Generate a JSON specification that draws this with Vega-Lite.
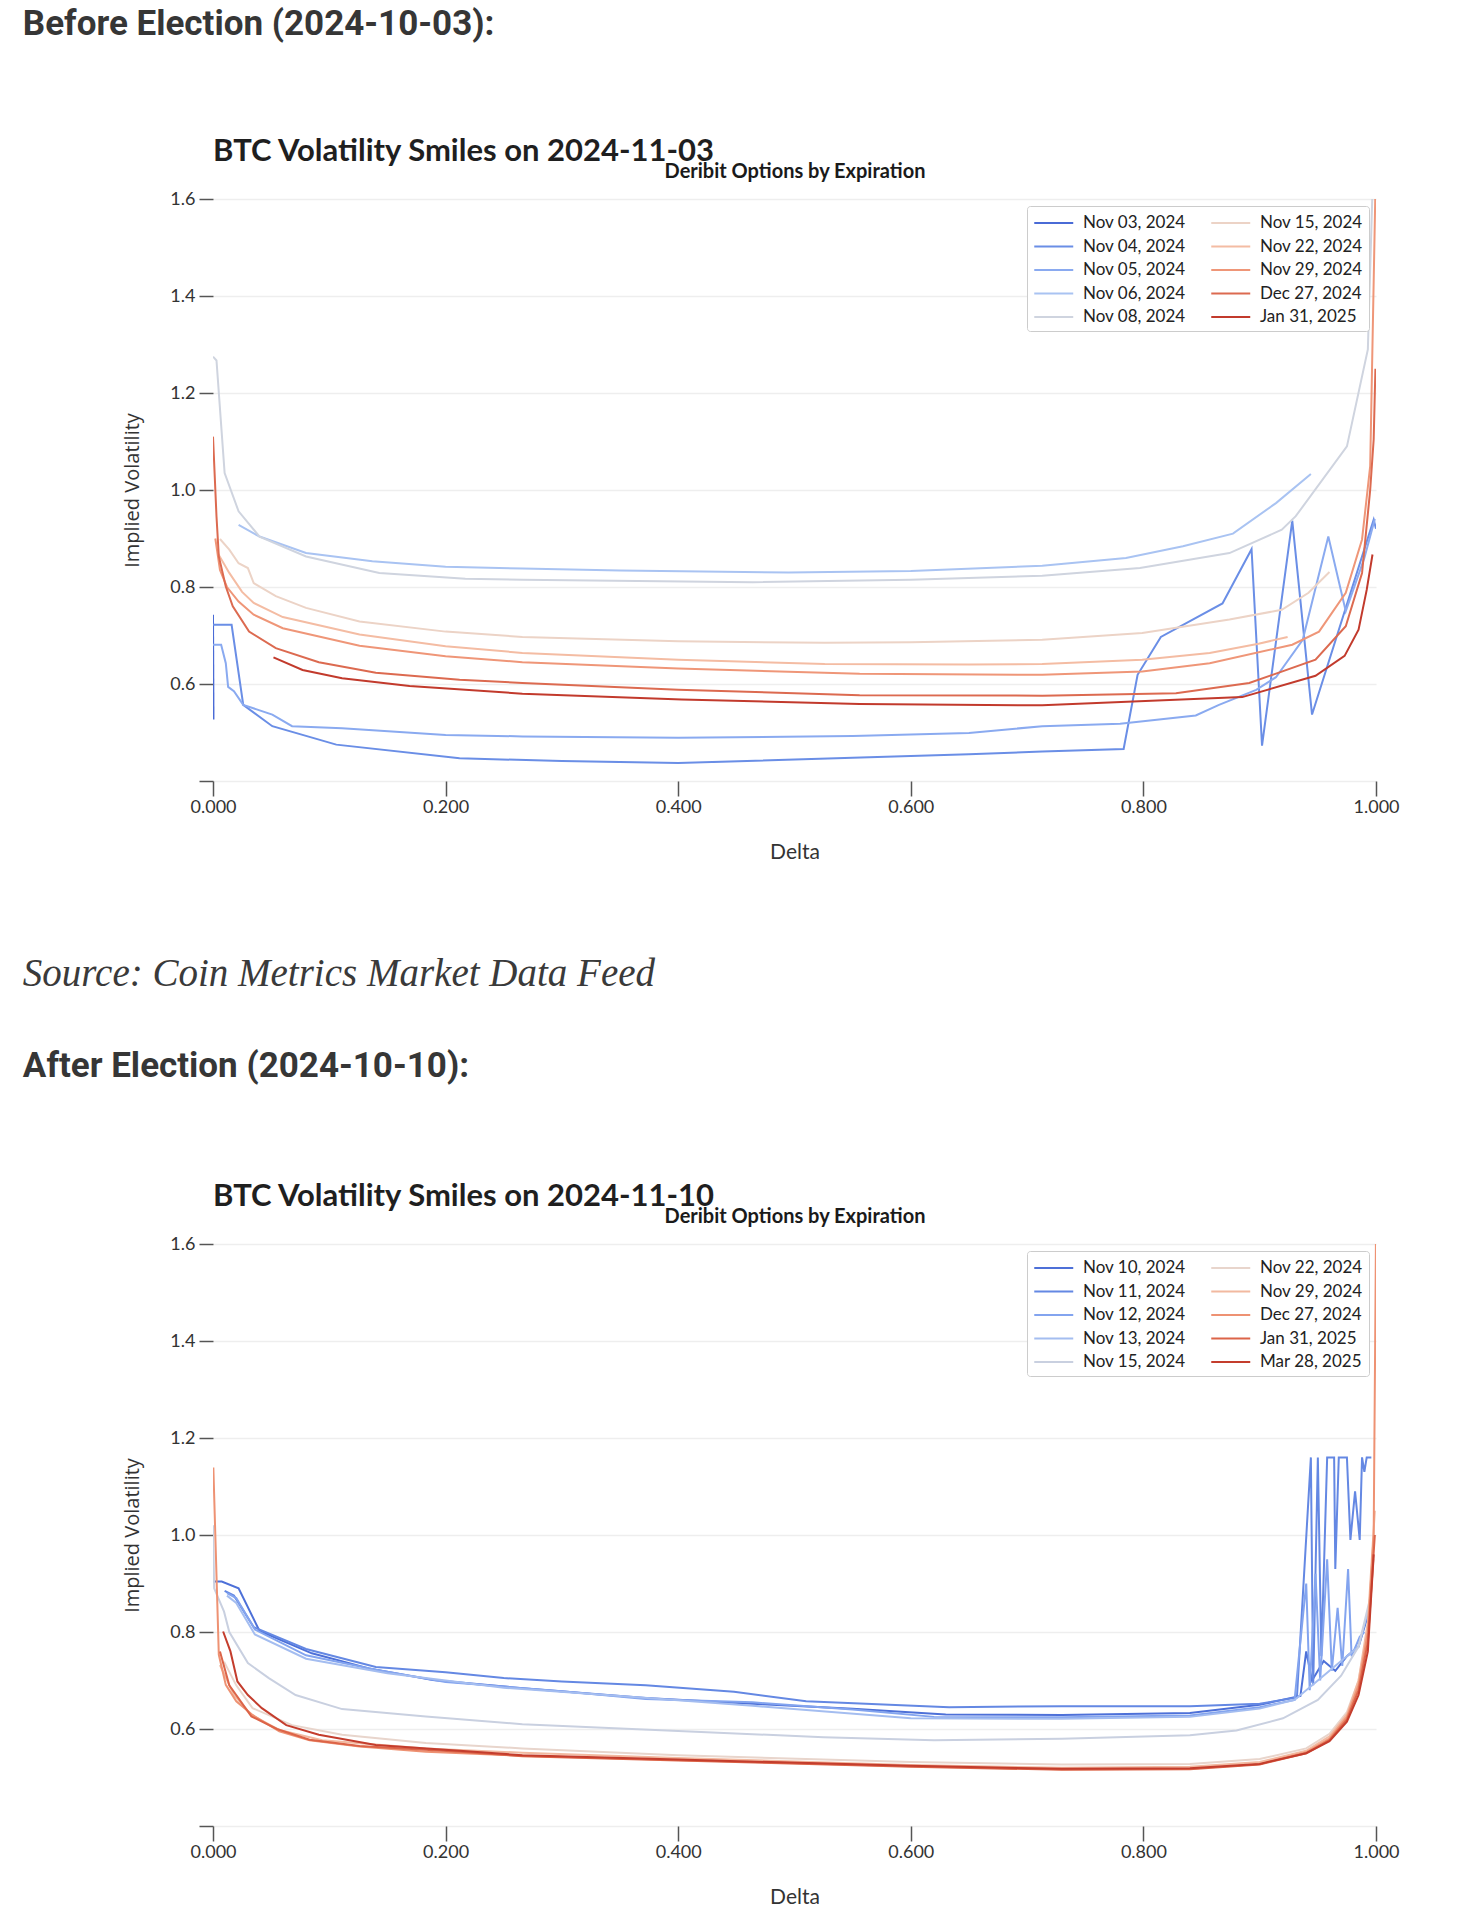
{
"$schema": "https://vega.github.io/schema/vega-lite/v6.json",
"background": "white",
"padding": {"left": 22, "top": 7, "right": 20, "bottom": 5},
"config": {
  "view": {"stroke": null},
  "axis": {"labelFont": "Lato", "labelFontSize": 18, "labelColor": "#333333", "tickColor": "#555555", "tickWidth": 1.5, "domain": false, "titleColor": "#333333", "titleFontWeight": "normal"},
  "legend": {"title": null, "orient": "top-right", "columns": 2, "symbolType": "M-1,0L3,0", "symbolSize": 380, "symbolStrokeWidth": 2, "labelFont": "Lato", "labelFontSize": 17, "labelColor": "#222222", "labelOffset": 28, "labelLimit": 300, "strokeColor": "#cccccc", "fillColor": "#ffffff", "cornerRadius": 3, "padding": 6, "offset": 7, "rowPadding": 4.5, "columnPadding": 21}
},
"resolve": {"scale": {"color": "independent"}, "legend": {"color": "independent"}},
"spacing": 93,
"vconcat": [
 {
  "title": {"text": "Before Election (2024-10-03):", "anchor": "start", "frame": "bounds", "dx": -100, "font": "Roboto", "fontSize": 35, "fontWeight": "bold", "color": "#363636", "offset": 94},
  "resolve": {"scale": {"color": "independent"}, "legend": {"color": "independent"}},
  "vconcat": [
   {
    "title": {"text": "BTC Volatility Smiles on 2024-11-03", "anchor": "start", "frame": "group", "font": "Lato", "fontSize": 31, "fontWeight": "bold", "color": "#1f1f1f", "offset": -7},
    "width": 1163, "height": 582,
    "data": {"name": "before"},
    "layer": [
     {"mark": {"type": "line", "strokeWidth": 2, "clip": true},
      "encoding": {
       "x": {"field": "d", "type": "quantitative", "scale": {"domain": [0, 1], "nice": false},
             "axis": {"title": "Delta", "titleFont": "Lato", "titleFontSize": 21, "values": [0, 0.2, 0.4, 0.6, 0.8, 1], "format": ".3f", "tickSize": 15, "grid": false, "labelPadding": 2, "titlePadding": 25, "labelFlush": false}},
       "y": {"field": "v", "type": "quantitative", "scale": {"domain": [0.4, 1.6], "nice": false, "zero": false},
             "axis": {"title": "Implied Volatility", "titleFont": "Open Sans", "titleFontSize": 20, "values": [0.4, 0.6, 0.8, 1.0, 1.2, 1.4, 1.6], "labelExpr": "datum.value < 0.5 ? '' : format(datum.value, '.1f')", "tickSize": 14, "labelPadding": 4, "titlePadding": 27, "grid": true, "gridColor": "#eeeeee", "gridWidth": 1.5}},
       "color": {"field": "e", "type": "nominal",
                 "scale": {"domain": ["Nov 03, 2024","Nov 04, 2024","Nov 05, 2024","Nov 06, 2024","Nov 08, 2024","Nov 15, 2024","Nov 22, 2024","Nov 29, 2024","Dec 27, 2024","Jan 31, 2025"],
                           "range": ["#4a6bd6","#6a8ee6","#8aaaf0","#a9c3f2","#cfd4df","#ecd3c6","#f4bca3","#ef9678","#dc6a50","#c23a2c"]}}
      }},
     {"mark": {"type": "rule", "opacity": 0},
      "encoding": {"x": {"field": "d", "type": "quantitative",
             "axis": {"orient": "top", "title": "Deribit Options by Expiration", "titleFont": "Lato", "titleFontSize": 20, "titleFontWeight": "bold", "titleColor": "#1a1a1a", "labels": false, "ticks": false, "domain": false, "grid": false, "titlePadding": 18}}}}
    ],
    "resolve": {"axis": {"x": "independent"}}
   }
  ]
 },
 {
  "title": {"text": "Source: Coin Metrics Market Data Feed", "subtitle": "After Election (2024-10-10):", "anchor": "start", "frame": "bounds", "dx": -100, "font": "Liberation Serif", "fontStyle": "italic", "fontWeight": "normal", "fontSize": 39, "color": "#3a3a3a", "subtitleFont": "Roboto", "subtitleFontSize": 35, "subtitleFontWeight": "bold", "subtitleColor": "#363636", "subtitlePadding": 55, "offset": 97},
  "resolve": {"scale": {"color": "independent"}, "legend": {"color": "independent"}},
  "vconcat": [
   {
    "title": {"text": "BTC Volatility Smiles on 2024-11-10", "anchor": "start", "frame": "group", "font": "Lato", "fontSize": 31, "fontWeight": "bold", "color": "#1f1f1f", "offset": -7},
    "width": 1163, "height": 582,
    "data": {"name": "after"},
    "layer": [
     {"mark": {"type": "line", "strokeWidth": 2, "clip": true},
      "encoding": {
       "x": {"field": "d", "type": "quantitative", "scale": {"domain": [0, 1], "nice": false},
             "axis": {"title": "Delta", "titleFont": "Lato", "titleFontSize": 21, "values": [0, 0.2, 0.4, 0.6, 0.8, 1], "format": ".3f", "tickSize": 15, "grid": false, "labelPadding": 2, "titlePadding": 25, "labelFlush": false}},
       "y": {"field": "v", "type": "quantitative", "scale": {"domain": [0.4, 1.6], "nice": false, "zero": false},
             "axis": {"title": "Implied Volatility", "titleFont": "Open Sans", "titleFontSize": 20, "values": [0.4, 0.6, 0.8, 1.0, 1.2, 1.4, 1.6], "labelExpr": "datum.value < 0.5 ? '' : format(datum.value, '.1f')", "tickSize": 14, "labelPadding": 4, "titlePadding": 27, "grid": true, "gridColor": "#eeeeee", "gridWidth": 1.5}},
       "color": {"field": "e", "type": "nominal",
                 "scale": {"domain": ["Nov 10, 2024","Nov 11, 2024","Nov 12, 2024","Nov 13, 2024","Nov 15, 2024","Nov 22, 2024","Nov 29, 2024","Dec 27, 2024","Jan 31, 2025","Mar 28, 2025"],
                           "range": ["#4d70d8","#6488e3","#83a4ef","#a4bdf0","#c9d0e0","#e8d5cc","#f2b9a0","#ee9273","#dc6448","#c43d2d"]}}
      }},
     {"mark": {"type": "rule", "opacity": 0},
      "encoding": {"x": {"field": "d", "type": "quantitative",
             "axis": {"orient": "top", "title": "Deribit Options by Expiration", "titleFont": "Lato", "titleFontSize": 20, "titleFontWeight": "bold", "titleColor": "#1a1a1a", "labels": false, "ticks": false, "domain": false, "grid": false, "titlePadding": 18}}}}
    ],
    "resolve": {"axis": {"x": "independent"}}
   }
  ]
 }
],
"datasets": {
 "before": [
  {"e":"Nov 03, 2024","d":0,"v":0.743},{"e":"Nov 03, 2024","d":0.0004,"v":0.527},
  {"e":"Nov 04, 2024","d":0,"v":0.722},{"e":"Nov 04, 2024","d":0.016,"v":0.722},{"e":"Nov 04, 2024","d":0.026,"v":0.557},{"e":"Nov 04, 2024","d":0.051,"v":0.513},{"e":"Nov 04, 2024","d":0.106,"v":0.475},{"e":"Nov 04, 2024","d":0.212,"v":0.447},{"e":"Nov 04, 2024","d":0.3,"v":0.441},{"e":"Nov 04, 2024","d":0.4,"v":0.437},{"e":"Nov 04, 2024","d":0.55,"v":0.448},{"e":"Nov 04, 2024","d":0.65,"v":0.455},{"e":"Nov 04, 2024","d":0.713,"v":0.461},{"e":"Nov 04, 2024","d":0.783,"v":0.466},{"e":"Nov 04, 2024","d":0.795,"v":0.619},{"e":"Nov 04, 2024","d":0.815,"v":0.697},{"e":"Nov 04, 2024","d":0.868,"v":0.766},{"e":"Nov 04, 2024","d":0.893,"v":0.878},{"e":"Nov 04, 2024","d":0.902,"v":0.473},{"e":"Nov 04, 2024","d":0.928,"v":0.937},{"e":"Nov 04, 2024","d":0.945,"v":0.537},{"e":"Nov 04, 2024","d":0.998,"v":0.939},{"e":"Nov 04, 2024","d":1.0,"v":0.92},
  {"e":"Nov 05, 2024","d":0,"v":0.681},{"e":"Nov 05, 2024","d":0.007,"v":0.681},{"e":"Nov 05, 2024","d":0.011,"v":0.643},{"e":"Nov 05, 2024","d":0.013,"v":0.594},{"e":"Nov 05, 2024","d":0.018,"v":0.585},{"e":"Nov 05, 2024","d":0.026,"v":0.557},{"e":"Nov 05, 2024","d":0.051,"v":0.537},{"e":"Nov 05, 2024","d":0.068,"v":0.513},{"e":"Nov 05, 2024","d":0.111,"v":0.509},{"e":"Nov 05, 2024","d":0.2,"v":0.495},{"e":"Nov 05, 2024","d":0.266,"v":0.492},{"e":"Nov 05, 2024","d":0.4,"v":0.489},{"e":"Nov 05, 2024","d":0.55,"v":0.493},{"e":"Nov 05, 2024","d":0.65,"v":0.499},{"e":"Nov 05, 2024","d":0.713,"v":0.513},{"e":"Nov 05, 2024","d":0.78,"v":0.518},{"e":"Nov 05, 2024","d":0.845,"v":0.535},{"e":"Nov 05, 2024","d":0.865,"v":0.557},{"e":"Nov 05, 2024","d":0.897,"v":0.588},{"e":"Nov 05, 2024","d":0.914,"v":0.614},{"e":"Nov 05, 2024","d":0.937,"v":0.691},{"e":"Nov 05, 2024","d":0.959,"v":0.904},{"e":"Nov 05, 2024","d":0.974,"v":0.75},{"e":"Nov 05, 2024","d":0.99,"v":0.86},{"e":"Nov 05, 2024","d":0.999,"v":0.94},
  {"e":"Nov 06, 2024","d":0.022,"v":0.928},{"e":"Nov 06, 2024","d":0.04,"v":0.904},{"e":"Nov 06, 2024","d":0.08,"v":0.87},{"e":"Nov 06, 2024","d":0.137,"v":0.853},{"e":"Nov 06, 2024","d":0.2,"v":0.842},{"e":"Nov 06, 2024","d":0.266,"v":0.838},{"e":"Nov 06, 2024","d":0.35,"v":0.834},{"e":"Nov 06, 2024","d":0.495,"v":0.83},{"e":"Nov 06, 2024","d":0.6,"v":0.833},{"e":"Nov 06, 2024","d":0.713,"v":0.844},{"e":"Nov 06, 2024","d":0.785,"v":0.86},{"e":"Nov 06, 2024","d":0.834,"v":0.884},{"e":"Nov 06, 2024","d":0.877,"v":0.91},{"e":"Nov 06, 2024","d":0.914,"v":0.973},{"e":"Nov 06, 2024","d":0.944,"v":1.033},
  {"e":"Nov 08, 2024","d":0,"v":1.275},{"e":"Nov 08, 2024","d":0.003,"v":1.267},{"e":"Nov 08, 2024","d":0.01,"v":1.035},{"e":"Nov 08, 2024","d":0.022,"v":0.956},{"e":"Nov 08, 2024","d":0.04,"v":0.904},{"e":"Nov 08, 2024","d":0.08,"v":0.863},{"e":"Nov 08, 2024","d":0.143,"v":0.829},{"e":"Nov 08, 2024","d":0.217,"v":0.817},{"e":"Nov 08, 2024","d":0.266,"v":0.815},{"e":"Nov 08, 2024","d":0.464,"v":0.81},{"e":"Nov 08, 2024","d":0.6,"v":0.815},{"e":"Nov 08, 2024","d":0.713,"v":0.823},{"e":"Nov 08, 2024","d":0.797,"v":0.839},{"e":"Nov 08, 2024","d":0.874,"v":0.87},{"e":"Nov 08, 2024","d":0.919,"v":0.918},{"e":"Nov 08, 2024","d":0.931,"v":0.946},{"e":"Nov 08, 2024","d":0.975,"v":1.09},{"e":"Nov 08, 2024","d":0.993,"v":1.29},{"e":"Nov 08, 2024","d":0.997,"v":1.62},
  {"e":"Nov 15, 2024","d":0.006,"v":0.899},{"e":"Nov 15, 2024","d":0.014,"v":0.877},{"e":"Nov 15, 2024","d":0.022,"v":0.849},{"e":"Nov 15, 2024","d":0.03,"v":0.839},{"e":"Nov 15, 2024","d":0.035,"v":0.808},{"e":"Nov 15, 2024","d":0.054,"v":0.781},{"e":"Nov 15, 2024","d":0.08,"v":0.757},{"e":"Nov 15, 2024","d":0.126,"v":0.729},{"e":"Nov 15, 2024","d":0.2,"v":0.708},{"e":"Nov 15, 2024","d":0.266,"v":0.697},{"e":"Nov 15, 2024","d":0.4,"v":0.688},{"e":"Nov 15, 2024","d":0.526,"v":0.685},{"e":"Nov 15, 2024","d":0.6,"v":0.686},{"e":"Nov 15, 2024","d":0.713,"v":0.691},{"e":"Nov 15, 2024","d":0.799,"v":0.705},{"e":"Nov 15, 2024","d":0.874,"v":0.733},{"e":"Nov 15, 2024","d":0.919,"v":0.753},{"e":"Nov 15, 2024","d":0.942,"v":0.788},{"e":"Nov 15, 2024","d":0.96,"v":0.831},
  {"e":"Nov 22, 2024","d":0.004,"v":0.87},{"e":"Nov 22, 2024","d":0.014,"v":0.829},{"e":"Nov 22, 2024","d":0.025,"v":0.79},{"e":"Nov 22, 2024","d":0.035,"v":0.767},{"e":"Nov 22, 2024","d":0.06,"v":0.738},{"e":"Nov 22, 2024","d":0.126,"v":0.702},{"e":"Nov 22, 2024","d":0.2,"v":0.678},{"e":"Nov 22, 2024","d":0.266,"v":0.664},{"e":"Nov 22, 2024","d":0.4,"v":0.65},{"e":"Nov 22, 2024","d":0.526,"v":0.641},{"e":"Nov 22, 2024","d":0.65,"v":0.64},{"e":"Nov 22, 2024","d":0.713,"v":0.641},{"e":"Nov 22, 2024","d":0.799,"v":0.65},{"e":"Nov 22, 2024","d":0.857,"v":0.664},{"e":"Nov 22, 2024","d":0.899,"v":0.683},{"e":"Nov 22, 2024","d":0.924,"v":0.697},
  {"e":"Nov 29, 2024","d":0.002,"v":0.9},{"e":"Nov 29, 2024","d":0.006,"v":0.835},{"e":"Nov 29, 2024","d":0.012,"v":0.8},{"e":"Nov 29, 2024","d":0.022,"v":0.77},{"e":"Nov 29, 2024","d":0.035,"v":0.743},{"e":"Nov 29, 2024","d":0.06,"v":0.715},{"e":"Nov 29, 2024","d":0.126,"v":0.679},{"e":"Nov 29, 2024","d":0.2,"v":0.657},{"e":"Nov 29, 2024","d":0.266,"v":0.645},{"e":"Nov 29, 2024","d":0.4,"v":0.632},{"e":"Nov 29, 2024","d":0.556,"v":0.621},{"e":"Nov 29, 2024","d":0.713,"v":0.619},{"e":"Nov 29, 2024","d":0.799,"v":0.626},{"e":"Nov 29, 2024","d":0.857,"v":0.643},{"e":"Nov 29, 2024","d":0.928,"v":0.681},{"e":"Nov 29, 2024","d":0.951,"v":0.708},{"e":"Nov 29, 2024","d":0.974,"v":0.788},{"e":"Nov 29, 2024","d":0.988,"v":0.898},{"e":"Nov 29, 2024","d":0.995,"v":1.049},{"e":"Nov 29, 2024","d":0.9995,"v":1.62},
  {"e":"Dec 27, 2024","d":0,"v":1.11},{"e":"Dec 27, 2024","d":0.003,"v":0.946},{"e":"Dec 27, 2024","d":0.005,"v":0.863},{"e":"Dec 27, 2024","d":0.011,"v":0.801},{"e":"Dec 27, 2024","d":0.017,"v":0.76},{"e":"Dec 27, 2024","d":0.031,"v":0.708},{"e":"Dec 27, 2024","d":0.054,"v":0.674},{"e":"Dec 27, 2024","d":0.091,"v":0.645},{"e":"Dec 27, 2024","d":0.14,"v":0.623},{"e":"Dec 27, 2024","d":0.212,"v":0.609},{"e":"Dec 27, 2024","d":0.266,"v":0.602},{"e":"Dec 27, 2024","d":0.4,"v":0.588},{"e":"Dec 27, 2024","d":0.556,"v":0.577},{"e":"Dec 27, 2024","d":0.713,"v":0.576},{"e":"Dec 27, 2024","d":0.828,"v":0.581},{"e":"Dec 27, 2024","d":0.891,"v":0.602},{"e":"Dec 27, 2024","d":0.948,"v":0.65},{"e":"Dec 27, 2024","d":0.974,"v":0.719},{"e":"Dec 27, 2024","d":0.988,"v":0.829},{"e":"Dec 27, 2024","d":0.995,"v":1.0},{"e":"Dec 27, 2024","d":0.998,"v":1.104},{"e":"Dec 27, 2024","d":0.9995,"v":1.25},
  {"e":"Jan 31, 2025","d":0.052,"v":0.655},{"e":"Jan 31, 2025","d":0.077,"v":0.629},{"e":"Jan 31, 2025","d":0.111,"v":0.612},{"e":"Jan 31, 2025","d":0.169,"v":0.596},{"e":"Jan 31, 2025","d":0.266,"v":0.58},{"e":"Jan 31, 2025","d":0.403,"v":0.568},{"e":"Jan 31, 2025","d":0.556,"v":0.559},{"e":"Jan 31, 2025","d":0.713,"v":0.556},{"e":"Jan 31, 2025","d":0.885,"v":0.573},{"e":"Jan 31, 2025","d":0.948,"v":0.617},{"e":"Jan 31, 2025","d":0.973,"v":0.658},{"e":"Jan 31, 2025","d":0.985,"v":0.712},{"e":"Jan 31, 2025","d":0.992,"v":0.794},{"e":"Jan 31, 2025","d":0.997,"v":0.867}
 ],
 "after": [
  {"e":"Nov 10, 2024","d":0,"v":0.904},{"e":"Nov 10, 2024","d":0.0075,"v":0.904},{"e":"Nov 10, 2024","d":0.022,"v":0.89},{"e":"Nov 10, 2024","d":0.04,"v":0.802},{"e":"Nov 10, 2024","d":0.085,"v":0.756},{"e":"Nov 10, 2024","d":0.134,"v":0.725},{"e":"Nov 10, 2024","d":0.189,"v":0.701},{"e":"Nov 10, 2024","d":0.266,"v":0.684},{"e":"Nov 10, 2024","d":0.372,"v":0.664},{"e":"Nov 10, 2024","d":0.464,"v":0.652},{"e":"Nov 10, 2024","d":0.55,"v":0.642},{"e":"Nov 10, 2024","d":0.63,"v":0.63},{"e":"Nov 10, 2024","d":0.73,"v":0.629},{"e":"Nov 10, 2024","d":0.84,"v":0.633},{"e":"Nov 10, 2024","d":0.9,"v":0.65},{"e":"Nov 10, 2024","d":0.935,"v":0.668},{"e":"Nov 10, 2024","d":0.94,"v":0.76},{"e":"Nov 10, 2024","d":0.945,"v":0.7},{"e":"Nov 10, 2024","d":0.955,"v":0.74},{"e":"Nov 10, 2024","d":0.965,"v":0.72},{"e":"Nov 10, 2024","d":0.975,"v":0.75},{"e":"Nov 10, 2024","d":0.985,"v":0.77},{"e":"Nov 10, 2024","d":0.995,"v":0.85},
  {"e":"Nov 11, 2024","d":0.01,"v":0.885},{"e":"Nov 11, 2024","d":0.018,"v":0.875},{"e":"Nov 11, 2024","d":0.035,"v":0.81},{"e":"Nov 11, 2024","d":0.08,"v":0.765},{"e":"Nov 11, 2024","d":0.14,"v":0.728},{"e":"Nov 11, 2024","d":0.2,"v":0.717},{"e":"Nov 11, 2024","d":0.25,"v":0.705},{"e":"Nov 11, 2024","d":0.3,"v":0.698},{"e":"Nov 11, 2024","d":0.372,"v":0.69},{"e":"Nov 11, 2024","d":0.448,"v":0.677},{"e":"Nov 11, 2024","d":0.51,"v":0.657},{"e":"Nov 11, 2024","d":0.633,"v":0.645},{"e":"Nov 11, 2024","d":0.73,"v":0.647},{"e":"Nov 11, 2024","d":0.84,"v":0.647},{"e":"Nov 11, 2024","d":0.9,"v":0.652},{"e":"Nov 11, 2024","d":0.932,"v":0.665},{"e":"Nov 11, 2024","d":0.944,"v":1.16},{"e":"Nov 11, 2024","d":0.946,"v":0.69},{"e":"Nov 11, 2024","d":0.95,"v":1.16},{"e":"Nov 11, 2024","d":0.953,"v":0.75},{"e":"Nov 11, 2024","d":0.958,"v":1.16},{"e":"Nov 11, 2024","d":0.964,"v":1.16},{"e":"Nov 11, 2024","d":0.965,"v":0.93},{"e":"Nov 11, 2024","d":0.968,"v":1.16},{"e":"Nov 11, 2024","d":0.975,"v":1.16},{"e":"Nov 11, 2024","d":0.978,"v":0.99},{"e":"Nov 11, 2024","d":0.982,"v":1.09},{"e":"Nov 11, 2024","d":0.986,"v":0.99},{"e":"Nov 11, 2024","d":0.988,"v":1.16},{"e":"Nov 11, 2024","d":0.99,"v":1.13},{"e":"Nov 11, 2024","d":0.992,"v":1.16},{"e":"Nov 11, 2024","d":0.996,"v":1.16},
  {"e":"Nov 12, 2024","d":0.012,"v":0.88},{"e":"Nov 12, 2024","d":0.02,"v":0.87},{"e":"Nov 12, 2024","d":0.036,"v":0.805},{"e":"Nov 12, 2024","d":0.08,"v":0.752},{"e":"Nov 12, 2024","d":0.14,"v":0.722},{"e":"Nov 12, 2024","d":0.2,"v":0.697},{"e":"Nov 12, 2024","d":0.3,"v":0.678},{"e":"Nov 12, 2024","d":0.372,"v":0.662},{"e":"Nov 12, 2024","d":0.464,"v":0.655},{"e":"Nov 12, 2024","d":0.55,"v":0.64},{"e":"Nov 12, 2024","d":0.62,"v":0.625},{"e":"Nov 12, 2024","d":0.73,"v":0.624},{"e":"Nov 12, 2024","d":0.84,"v":0.628},{"e":"Nov 12, 2024","d":0.9,"v":0.645},{"e":"Nov 12, 2024","d":0.93,"v":0.66},{"e":"Nov 12, 2024","d":0.94,"v":0.9},{"e":"Nov 12, 2024","d":0.943,"v":0.68},{"e":"Nov 12, 2024","d":0.948,"v":0.92},{"e":"Nov 12, 2024","d":0.952,"v":0.7},{"e":"Nov 12, 2024","d":0.958,"v":0.95},{"e":"Nov 12, 2024","d":0.962,"v":0.72},{"e":"Nov 12, 2024","d":0.967,"v":0.85},{"e":"Nov 12, 2024","d":0.971,"v":0.73},{"e":"Nov 12, 2024","d":0.976,"v":0.93},{"e":"Nov 12, 2024","d":0.979,"v":0.75},{"e":"Nov 12, 2024","d":0.986,"v":0.79},{"e":"Nov 12, 2024","d":0.99,"v":0.8},
  {"e":"Nov 13, 2024","d":0.012,"v":0.875},{"e":"Nov 13, 2024","d":0.02,"v":0.86},{"e":"Nov 13, 2024","d":0.036,"v":0.795},{"e":"Nov 13, 2024","d":0.08,"v":0.745},{"e":"Nov 13, 2024","d":0.15,"v":0.715},{"e":"Nov 13, 2024","d":0.25,"v":0.685},{"e":"Nov 13, 2024","d":0.35,"v":0.668},{"e":"Nov 13, 2024","d":0.464,"v":0.648},{"e":"Nov 13, 2024","d":0.6,"v":0.622},{"e":"Nov 13, 2024","d":0.73,"v":0.621},{"e":"Nov 13, 2024","d":0.84,"v":0.625},{"e":"Nov 13, 2024","d":0.9,"v":0.642},{"e":"Nov 13, 2024","d":0.93,"v":0.66},{"e":"Nov 13, 2024","d":0.95,"v":0.7},{"e":"Nov 13, 2024","d":0.97,"v":0.74},{"e":"Nov 13, 2024","d":0.985,"v":0.77},{"e":"Nov 13, 2024","d":0.995,"v":0.86},
  {"e":"Nov 15, 2024","d":0,"v":1.02},{"e":"Nov 15, 2024","d":0.001,"v":0.89},{"e":"Nov 15, 2024","d":0.0095,"v":0.842},{"e":"Nov 15, 2024","d":0.014,"v":0.8},{"e":"Nov 15, 2024","d":0.03,"v":0.736},{"e":"Nov 15, 2024","d":0.048,"v":0.705},{"e":"Nov 15, 2024","d":0.071,"v":0.67},{"e":"Nov 15, 2024","d":0.111,"v":0.641},{"e":"Nov 15, 2024","d":0.183,"v":0.626},{"e":"Nov 15, 2024","d":0.266,"v":0.61},{"e":"Nov 15, 2024","d":0.4,"v":0.596},{"e":"Nov 15, 2024","d":0.525,"v":0.583},{"e":"Nov 15, 2024","d":0.62,"v":0.577},{"e":"Nov 15, 2024","d":0.73,"v":0.58},{"e":"Nov 15, 2024","d":0.84,"v":0.587},{"e":"Nov 15, 2024","d":0.88,"v":0.597},{"e":"Nov 15, 2024","d":0.92,"v":0.622},{"e":"Nov 15, 2024","d":0.95,"v":0.66},{"e":"Nov 15, 2024","d":0.97,"v":0.71},{"e":"Nov 15, 2024","d":0.985,"v":0.77},{"e":"Nov 15, 2024","d":0.995,"v":0.87},
  {"e":"Nov 22, 2024","d":0.0095,"v":0.739},{"e":"Nov 22, 2024","d":0.02,"v":0.69},{"e":"Nov 22, 2024","d":0.034,"v":0.643},{"e":"Nov 22, 2024","d":0.068,"v":0.608},{"e":"Nov 22, 2024","d":0.111,"v":0.588},{"e":"Nov 22, 2024","d":0.183,"v":0.571},{"e":"Nov 22, 2024","d":0.266,"v":0.56},{"e":"Nov 22, 2024","d":0.4,"v":0.546},{"e":"Nov 22, 2024","d":0.6,"v":0.532},{"e":"Nov 22, 2024","d":0.73,"v":0.527},{"e":"Nov 22, 2024","d":0.84,"v":0.528},{"e":"Nov 22, 2024","d":0.9,"v":0.538},{"e":"Nov 22, 2024","d":0.94,"v":0.56},{"e":"Nov 22, 2024","d":0.96,"v":0.59},{"e":"Nov 22, 2024","d":0.975,"v":0.635},{"e":"Nov 22, 2024","d":0.985,"v":0.7},{"e":"Nov 22, 2024","d":0.993,"v":0.8},{"e":"Nov 22, 2024","d":0.998,"v":0.95},
  {"e":"Nov 29, 2024","d":0.006,"v":0.732},{"e":"Nov 29, 2024","d":0.018,"v":0.67},{"e":"Nov 29, 2024","d":0.033,"v":0.629},{"e":"Nov 29, 2024","d":0.057,"v":0.598},{"e":"Nov 29, 2024","d":0.094,"v":0.577},{"e":"Nov 29, 2024","d":0.183,"v":0.56},{"e":"Nov 29, 2024","d":0.266,"v":0.551},{"e":"Nov 29, 2024","d":0.4,"v":0.54},{"e":"Nov 29, 2024","d":0.6,"v":0.526},{"e":"Nov 29, 2024","d":0.73,"v":0.52},{"e":"Nov 29, 2024","d":0.84,"v":0.522},{"e":"Nov 29, 2024","d":0.9,"v":0.532},{"e":"Nov 29, 2024","d":0.94,"v":0.555},{"e":"Nov 29, 2024","d":0.96,"v":0.585},{"e":"Nov 29, 2024","d":0.975,"v":0.63},{"e":"Nov 29, 2024","d":0.985,"v":0.7},{"e":"Nov 29, 2024","d":0.993,"v":0.82},{"e":"Nov 29, 2024","d":0.999,"v":1.05},
  {"e":"Dec 27, 2024","d":0.0003,"v":1.139},{"e":"Dec 27, 2024","d":0.005,"v":0.753},{"e":"Dec 27, 2024","d":0.011,"v":0.691},{"e":"Dec 27, 2024","d":0.02,"v":0.657},{"e":"Dec 27, 2024","d":0.034,"v":0.629},{"e":"Dec 27, 2024","d":0.057,"v":0.595},{"e":"Dec 27, 2024","d":0.083,"v":0.577},{"e":"Dec 27, 2024","d":0.126,"v":0.564},{"e":"Dec 27, 2024","d":0.183,"v":0.553},{"e":"Dec 27, 2024","d":0.266,"v":0.545},{"e":"Dec 27, 2024","d":0.4,"v":0.536},{"e":"Dec 27, 2024","d":0.6,"v":0.523},{"e":"Dec 27, 2024","d":0.73,"v":0.517},{"e":"Dec 27, 2024","d":0.84,"v":0.518},{"e":"Dec 27, 2024","d":0.9,"v":0.528},{"e":"Dec 27, 2024","d":0.94,"v":0.552},{"e":"Dec 27, 2024","d":0.96,"v":0.58},{"e":"Dec 27, 2024","d":0.975,"v":0.625},{"e":"Dec 27, 2024","d":0.985,"v":0.69},{"e":"Dec 27, 2024","d":0.993,"v":0.8},{"e":"Dec 27, 2024","d":0.998,"v":1.0},{"e":"Dec 27, 2024","d":1.0,"v":1.62},
  {"e":"Jan 31, 2025","d":0.006,"v":0.76},{"e":"Jan 31, 2025","d":0.014,"v":0.69},{"e":"Jan 31, 2025","d":0.033,"v":0.626},{"e":"Jan 31, 2025","d":0.055,"v":0.6},{"e":"Jan 31, 2025","d":0.083,"v":0.578},{"e":"Jan 31, 2025","d":0.126,"v":0.565},{"e":"Jan 31, 2025","d":0.212,"v":0.553},{"e":"Jan 31, 2025","d":0.266,"v":0.544},{"e":"Jan 31, 2025","d":0.4,"v":0.535},{"e":"Jan 31, 2025","d":0.6,"v":0.522},{"e":"Jan 31, 2025","d":0.73,"v":0.516},{"e":"Jan 31, 2025","d":0.84,"v":0.517},{"e":"Jan 31, 2025","d":0.9,"v":0.527},{"e":"Jan 31, 2025","d":0.94,"v":0.55},{"e":"Jan 31, 2025","d":0.96,"v":0.577},{"e":"Jan 31, 2025","d":0.975,"v":0.62},{"e":"Jan 31, 2025","d":0.985,"v":0.68},{"e":"Jan 31, 2025","d":0.993,"v":0.78},{"e":"Jan 31, 2025","d":0.999,"v":1.0},
  {"e":"Mar 28, 2025","d":0.0087,"v":0.801},{"e":"Mar 28, 2025","d":0.015,"v":0.76},{"e":"Mar 28, 2025","d":0.021,"v":0.698},{"e":"Mar 28, 2025","d":0.03,"v":0.67},{"e":"Mar 28, 2025","d":0.042,"v":0.643},{"e":"Mar 28, 2025","d":0.063,"v":0.608},{"e":"Mar 28, 2025","d":0.091,"v":0.588},{"e":"Mar 28, 2025","d":0.14,"v":0.567},{"e":"Mar 28, 2025","d":0.212,"v":0.555},{"e":"Mar 28, 2025","d":0.266,"v":0.546},{"e":"Mar 28, 2025","d":0.4,"v":0.537},{"e":"Mar 28, 2025","d":0.6,"v":0.524},{"e":"Mar 28, 2025","d":0.73,"v":0.518},{"e":"Mar 28, 2025","d":0.84,"v":0.519},{"e":"Mar 28, 2025","d":0.9,"v":0.528},{"e":"Mar 28, 2025","d":0.94,"v":0.55},{"e":"Mar 28, 2025","d":0.96,"v":0.575},{"e":"Mar 28, 2025","d":0.975,"v":0.615},{"e":"Mar 28, 2025","d":0.985,"v":0.67},{"e":"Mar 28, 2025","d":0.993,"v":0.76},{"e":"Mar 28, 2025","d":0.998,"v":0.96}
 ]
}
}
